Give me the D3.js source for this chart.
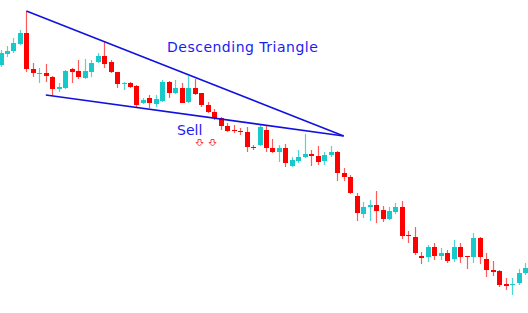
<!DOCTYPE html>
<html>
<head>
<meta charset="utf-8">
<script src="https://cdn.jsdelivr.net/npm/d3@7"></script>
<style>
  html, body { margin: 0; padding: 0; background: #fff; }
  svg { display: block; }
</style>
</head>
<body>
<script>
const width = 528;
const height = 313;

// price readings, one entry per candle
const open = [265, 276, 279, 286, 297, 261, 256, 257, 253, 241, 242, 261, 259, 252, 258, 268, 274, 268, 258, 246,
  247, 244, 227, 232, 226, 229, 248, 237, 242, 228, 242, 237, 225, 218, 212, 204, 200, 199, 198, 183,
  185, 200, 182, 178, 182, 164, 169, 173, 176, 174, 169, 175, 178, 157, 153, 134, 116, 123, 125, 120,
  111, 118, 123, 95, 93, 74, 73, 83, 74, 77, 71, 83, 74, 73, 92, 71, 60, 59, 46, 45, 47, 57];
const high = [280, 284, 292, 300, 319, 267, 262, 266, 254, 247, 260, 262, 270, 271, 270, 277, 289, 270, 258, 248,
  248, 245, 232, 235, 235, 250, 249, 250, 247, 254, 251, 237, 228, 221, 213, 207, 205, 202, 203, 185,
  205, 205, 191, 185, 186, 173, 180, 196, 180, 184, 178, 184, 179, 162, 155, 137, 128, 130, 139, 124,
  123, 127, 129, 99, 103, 78, 85, 87, 82, 80, 90, 87, 74, 97, 93, 77, 69, 60, 52, 52, 61, 67];
const low = [263, 273, 277, 285, 258, 253, 247, 248, 234, 238, 241, 247, 251, 251, 253, 267, 262, 257, 242, 240,
  242, 222, 226, 222, 223, 228, 232, 236, 227, 227, 235, 223, 217, 210, 200, 198, 197, 195, 178, 180,
  184, 178, 177, 168, 163, 163, 167, 172, 164, 165, 165, 173, 149, 149, 136, 109, 112, 109, 107, 108,
  110, 116, 91, 87, 75, 66, 68, 70, 70, 67, 68, 67, 61, 67, 66, 53, 54, 43, 40, 35, 45, 55];
const close = [277, 279, 287, 297, 261, 257, 257, 254, 241, 243, 259, 258, 253, 259, 267, 274, 266, 258, 246, 247,
  243, 225, 230, 227, 231, 248, 237, 242, 227, 242, 236, 225, 218, 212, 204, 199, 199, 198, 183, 182,
  203, 182, 178, 182, 167, 170, 173, 176, 174, 168, 175, 178, 157, 153, 137, 117, 123, 125, 119, 111,
  119, 123, 94, 94, 77, 72, 83, 74, 77, 69, 83, 73, 73, 92, 73, 60, 58, 45, 44, 46, 57, 62];

// triangle sides: [candle index, price]
const upperSide = [[4, 319], [53, 194]];
const lowerSide = [[7, 235], [53, 194]];
// sell arrows
const sellArrows = [30.6, 32.6];
const sellLevel = 188;

const candles = open.map((o, i) => ({ i, o, h: high[i], l: low[i], c: close[i] }));

const x = d3.scaleLinear().domain([0, candles.length - 1]).range([0.5, 525]);
const y = d3.scaleLinear().domain([0, 330]).range([330, 0]);

const svg = d3.select("body")
  .append("svg")
  .attr("width", width)
  .attr("height", height);

const up = "#17c9c9";
const down = "#ff0000";

const candle = svg.append("g")
  .selectAll("g")
  .data(candles)
  .enter()
  .append("g");

candle.append("line")
  .attr("x1", d => Math.round(x(d.i)) + 0.5)
  .attr("x2", d => Math.round(x(d.i)) + 0.5)
  .attr("y1", d => y(d.h))
  .attr("y2", d => y(d.l))
  .attr("stroke", d => d.c >= d.o ? "#4fd6d6" : "#ff5a5a")
  .attr("stroke-width", 1.2);

candle.append("rect")
  .attr("x", d => Math.round(x(d.i)) - 2)
  .attr("width", 5)
  .attr("y", d => y(Math.max(d.o, d.c)))
  .attr("height", d => Math.max(1, Math.abs(y(d.o) - y(d.c))))
  .attr("fill", d => d.c >= d.o ? up : down);

// triangle
const line = d3.line().x(d => x(d[0])).y(d => y(d[1]));
[upperSide, lowerSide].forEach(side => {
  svg.append("path")
    .attr("d", line(side))
    .attr("fill", "none")
    .attr("stroke", "#1212e0")
    .attr("stroke-width", 1.6);
});

svg.append("text")
  .attr("x", 167)
  .attr("y", 51.5)
  .attr("font-family", "DejaVu Sans")
  .attr("font-size", 14)
  .attr("letter-spacing", 0.5)
  .attr("fill", "#1c1cf0")
  .text("Descending Triangle");

svg.append("text")
  .attr("x", 177)
  .attr("y", 135)
  .attr("font-family", "DejaVu Sans")
  .attr("font-size", 14)
  .attr("fill", "#1c1cf0")
  .text("Sell");

// hollow down arrows
svg.append("g")
  .selectAll("path")
  .data(sellArrows)
  .enter()
  .append("path")
  .attr("transform", d => `translate(${Math.round(x(d)) + 0.5}, ${Math.round(y(sellLevel)) + 0.5})`)
  .attr("d", "M-1.5,-3 L1.5,-3 L1.5,0 L3.5,0 L0,3.5 L-3.5,0 L-1.5,0 Z")
  .attr("fill", "#fff")
  .attr("stroke", "#ff4040")
  .attr("stroke-width", 1);
</script>
</body>
</html>
